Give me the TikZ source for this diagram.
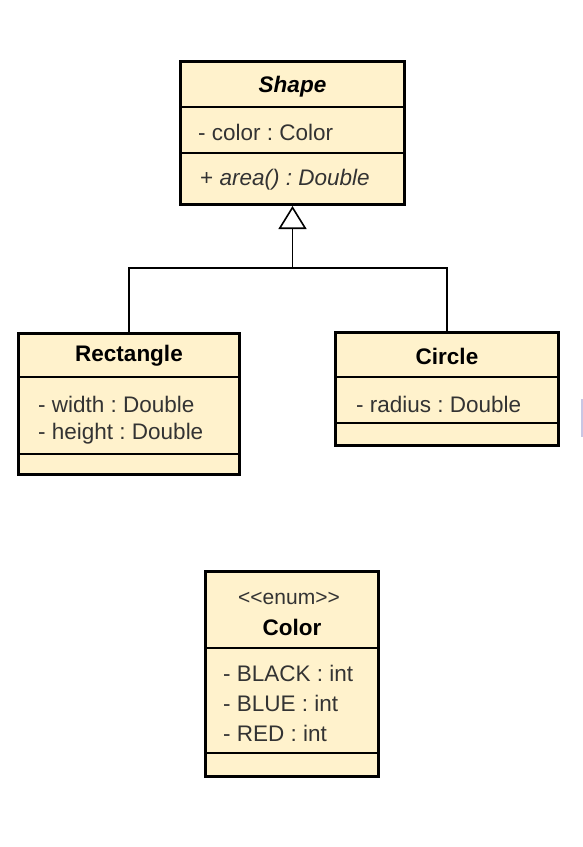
\documentclass[tikz,border=0pt]{standalone}
\usepackage{fontspec}
\setmainfont{Liberation Sans}
\usetikzlibrary{arrows.meta}
\definecolor{umlfill}{HTML}{FFF2CC}
\definecolor{umltext}{HTML}{333333}
\definecolor{edgebar}{HTML}{C8C6E4}
\frenchspacing
\begin{document}
\begin{tikzpicture}[x=1pt,y=-1pt,
  umlbox/.style={draw=black, fill=umlfill, line width=3pt, inner sep=0pt, rectangle},
  sep/.style={line width=1.4pt, black},
  ttl/.style={font=\fontsize{22.5}{26}\selectfont\bfseries, text=black, inner sep=0pt},
  attr/.style={font=\fontsize{22.5}{26}\selectfont, text=umltext, inner sep=0pt, anchor=west},
  conn/.style={line width=1.6pt, black}]
\useasboundingbox (0,0) rectangle (583,847);
\fill[white] (0,0) rectangle (583,847);
% Shape
\node[umlbox, minimum width=224pt, minimum height=143pt] (shape) at (292.5,133) {};
\draw[sep] (shape.west |- 0,107) -- (shape.east |- 0,107);
\draw[sep] (shape.west |- 0,153) -- (shape.east |- 0,153);
\node[ttl, font=\fontsize{22.5}{26}\selectfont\bfseries\itshape] (shapet) at (292.5,87) {Shape};
\node[attr] (shapea) at (198,132) {- color : Color};
\node[attr] (shapem) at (200,180) {+ \textit{area() : Double}};
% Rectangle
\node[umlbox, minimum width=221pt, minimum height=141pt] (rect) at (129,404) {};
\draw[sep] (rect.west |- 0,377) -- (rect.east |- 0,377);
\draw[sep] (rect.west |- 0,454) -- (rect.east |- 0,454);
\node[ttl] (rectt) at (129,356) {Rectangle};
\node[attr] (recta) at (38,404) {- width : Double};
\node[attr] (rectb) at (38,434) {- height : Double};
% Circle
\node[umlbox, minimum width=223pt, minimum height=113pt] (circ) at (447,389) {};
\draw[sep] (circ.west |- 0,377) -- (circ.east |- 0,377);
\draw[sep] (circ.west |- 0,423) -- (circ.east |- 0,423);
\node[ttl] (circt) at (447,356) {Circle};
\node[attr] (circa) at (356,404) {- radius : Double};
% Color enum
\node[umlbox, minimum width=173pt, minimum height=205pt] (col) at (292,674) {};
\draw[sep] (col.west |- 0,648) -- (col.east |- 0,648);
\draw[sep] (col.west |- 0,753) -- (col.east |- 0,753);
\node[attr, anchor=center, font=\fontsize{21}{25}\selectfont] (colst) at (289,598) {<{}<enum>{}>};
\node[ttl] (colt) at (292,627) {Color};
\node[attr] (cola) at (223,673) {- BLACK : int};
\node[attr] (colb) at (223,703) {- BLUE : int};
\node[attr] (colc) at (223,733) {- RED : int};
% inheritance
\coordinate (join) at (292.5,268);
\draw[conn] (rect.north) |- (join);
\draw[conn] (circ.north) |- (join);
\draw[conn, -{Triangle[open, fill=white, length=23pt, width=28pt, line width=1.6pt]}] (join) -- (shape.south);
% edge artifact
\fill[edgebar] (581,399) rectangle (583,437);
\end{tikzpicture}
\end{document}
